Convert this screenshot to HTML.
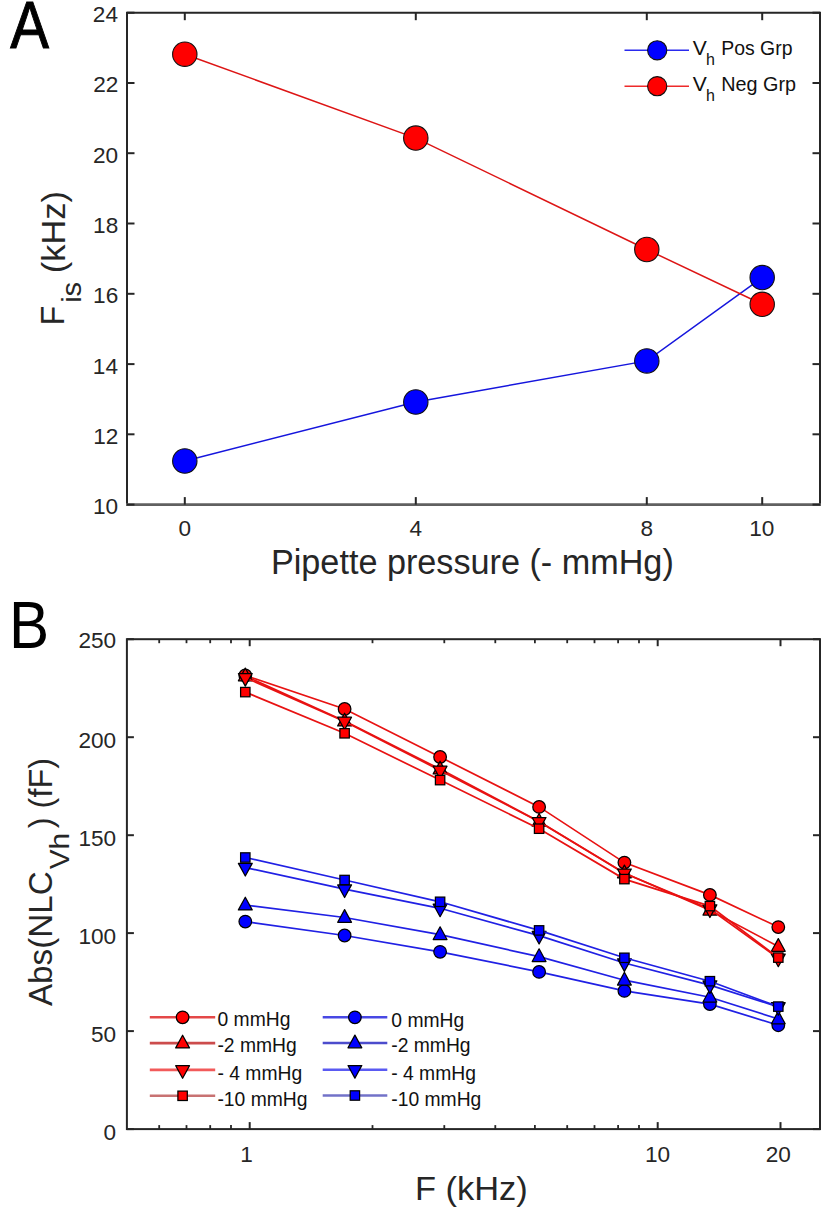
<!DOCTYPE html>
<html><head><meta charset="utf-8"><style>
html,body{margin:0;padding:0;background:#fff;}
body{width:826px;height:1210px;overflow:hidden;}
svg{display:block;}
#w{width:826px;height:1210px;}
text{font-family:"Liberation Sans",sans-serif;}
</style></head><body><div id="w">
<svg width="826" height="1210" viewBox="0 0 826 1210">
<rect width="826" height="1210" fill="#fff"/>
<path d="M127.0,504.6 L127.0,12.7 L820.0,12.7 L820.0,504.6" fill="none" stroke="#262626" stroke-width="2"/>
<line x1="126.0" y1="504.6" x2="821.0" y2="504.6" stroke="#606060" stroke-width="2.6"/>
<line x1="184.8" y1="504.6" x2="184.8" y2="497.1" stroke="#262626" stroke-width="2"/>
<line x1="184.8" y1="12.7" x2="184.8" y2="20.2" stroke="#262626" stroke-width="2"/>
<text x="178.42" y="536.30" font-size="22.6" textLength="12.57" lengthAdjust="spacingAndGlyphs" fill="#262626" >0</text>
<line x1="415.8" y1="504.6" x2="415.8" y2="497.1" stroke="#262626" stroke-width="2"/>
<line x1="415.8" y1="12.7" x2="415.8" y2="20.2" stroke="#262626" stroke-width="2"/>
<text x="409.59" y="536.30" font-size="22.6" textLength="12.57" lengthAdjust="spacingAndGlyphs" fill="#262626" >4</text>
<line x1="646.8" y1="504.6" x2="646.8" y2="497.1" stroke="#262626" stroke-width="2"/>
<line x1="646.8" y1="12.7" x2="646.8" y2="20.2" stroke="#262626" stroke-width="2"/>
<text x="640.42" y="536.30" font-size="22.6" textLength="12.57" lengthAdjust="spacingAndGlyphs" fill="#262626" >8</text>
<line x1="762.2" y1="504.6" x2="762.2" y2="497.1" stroke="#262626" stroke-width="2"/>
<line x1="762.2" y1="12.7" x2="762.2" y2="20.2" stroke="#262626" stroke-width="2"/>
<text x="749.26" y="536.30" font-size="22.6" textLength="25.14" lengthAdjust="spacingAndGlyphs" fill="#262626" >10</text>
<line x1="127.0" y1="504.6" x2="134.5" y2="504.6" stroke="#262626" stroke-width="2"/>
<line x1="820.0" y1="504.6" x2="812.5" y2="504.6" stroke="#262626" stroke-width="2"/>
<text x="92.96" y="514.10" font-size="22.6" textLength="25.14" lengthAdjust="spacingAndGlyphs" fill="#262626" >10</text>
<line x1="127.0" y1="434.3" x2="134.5" y2="434.3" stroke="#262626" stroke-width="2"/>
<line x1="820.0" y1="434.3" x2="812.5" y2="434.3" stroke="#262626" stroke-width="2"/>
<text x="93.29" y="443.83" font-size="22.6" textLength="25.14" lengthAdjust="spacingAndGlyphs" fill="#262626" >12</text>
<line x1="127.0" y1="364.1" x2="134.5" y2="364.1" stroke="#262626" stroke-width="2"/>
<line x1="820.0" y1="364.1" x2="812.5" y2="364.1" stroke="#262626" stroke-width="2"/>
<text x="92.84" y="373.56" font-size="22.6" textLength="25.14" lengthAdjust="spacingAndGlyphs" fill="#262626" >14</text>
<line x1="127.0" y1="293.8" x2="134.5" y2="293.8" stroke="#262626" stroke-width="2"/>
<line x1="820.0" y1="293.8" x2="812.5" y2="293.8" stroke="#262626" stroke-width="2"/>
<text x="93.07" y="303.29" font-size="22.6" textLength="25.14" lengthAdjust="spacingAndGlyphs" fill="#262626" >16</text>
<line x1="127.0" y1="223.5" x2="134.5" y2="223.5" stroke="#262626" stroke-width="2"/>
<line x1="820.0" y1="223.5" x2="812.5" y2="223.5" stroke="#262626" stroke-width="2"/>
<text x="93.07" y="233.01" font-size="22.6" textLength="25.14" lengthAdjust="spacingAndGlyphs" fill="#262626" >18</text>
<line x1="127.0" y1="153.2" x2="134.5" y2="153.2" stroke="#262626" stroke-width="2"/>
<line x1="820.0" y1="153.2" x2="812.5" y2="153.2" stroke="#262626" stroke-width="2"/>
<text x="92.96" y="162.74" font-size="22.6" textLength="25.14" lengthAdjust="spacingAndGlyphs" fill="#262626" >20</text>
<line x1="127.0" y1="83.0" x2="134.5" y2="83.0" stroke="#262626" stroke-width="2"/>
<line x1="820.0" y1="83.0" x2="812.5" y2="83.0" stroke="#262626" stroke-width="2"/>
<text x="93.29" y="92.47" font-size="22.6" textLength="25.14" lengthAdjust="spacingAndGlyphs" fill="#262626" >22</text>
<line x1="127.0" y1="12.7" x2="134.5" y2="12.7" stroke="#262626" stroke-width="2"/>
<line x1="820.0" y1="12.7" x2="812.5" y2="12.7" stroke="#262626" stroke-width="2"/>
<text x="92.84" y="22.20" font-size="22.6" textLength="25.14" lengthAdjust="spacingAndGlyphs" fill="#262626" >24</text>
<polyline points="184.8,461.0 415.8,402.0 646.8,360.9 762.2,277.6" fill="none" stroke="#1515dd" stroke-width="1.5"/>
<polyline points="184.8,54.2 415.8,138.1 646.8,249.5 762.2,304.3" fill="none" stroke="#dd1515" stroke-width="1.5"/>
<circle cx="184.8" cy="461.0" r="12.2" fill="#0000ff" stroke="#111" stroke-width="1.1"/>
<circle cx="415.8" cy="402.0" r="12.2" fill="#0000ff" stroke="#111" stroke-width="1.1"/>
<circle cx="646.8" cy="360.9" r="12.2" fill="#0000ff" stroke="#111" stroke-width="1.1"/>
<circle cx="762.2" cy="277.6" r="12.2" fill="#0000ff" stroke="#111" stroke-width="1.1"/>
<circle cx="184.8" cy="54.2" r="12.2" fill="#ff0000" stroke="#111" stroke-width="1.1"/>
<circle cx="415.8" cy="138.1" r="12.2" fill="#ff0000" stroke="#111" stroke-width="1.1"/>
<circle cx="646.8" cy="249.5" r="12.2" fill="#ff0000" stroke="#111" stroke-width="1.1"/>
<circle cx="762.2" cy="304.3" r="12.2" fill="#ff0000" stroke="#111" stroke-width="1.1"/>
<line x1="624.5" y1="50.3" x2="689" y2="50.3" stroke="#2a2aee" stroke-width="1.5"/>
<circle cx="657.2" cy="50.3" r="9.6" fill="#0000ff" stroke="#111" stroke-width="1.1"/>
<text x="692.89" y="54.80" font-size="19.4" textLength="14.05" lengthAdjust="spacingAndGlyphs" fill="#111" >V</text>
<text x="705.9" y="64.90" font-size="16" fill="#111">h</text>
<text x="721.25" y="54.80" font-size="19.4" textLength="71.19" lengthAdjust="spacingAndGlyphs" fill="#111" >Pos Grp</text>
<line x1="624.5" y1="86.2" x2="689" y2="86.2" stroke="#ee2a2a" stroke-width="1.5"/>
<circle cx="657.2" cy="86.2" r="9.6" fill="#ff0000" stroke="#111" stroke-width="1.1"/>
<text x="692.89" y="90.70" font-size="19.4" textLength="14.05" lengthAdjust="spacingAndGlyphs" fill="#111" >V</text>
<text x="705.9" y="100.80" font-size="16" fill="#111">h</text>
<text x="721.22" y="90.70" font-size="19.4" textLength="74.76" lengthAdjust="spacingAndGlyphs" fill="#111" >Neg Grp</text>
<text x="270.96" y="574.10" font-size="34.2" textLength="402.83" lengthAdjust="spacingAndGlyphs" fill="#262626" >Pipette pressure (- mmHg)</text>
<g transform="rotate(-90)"><text x="-325.38" y="64.40" font-size="33.5" textLength="19.70" lengthAdjust="spacingAndGlyphs" fill="#262626" >F</text><text x="-302.89" y="80.80" font-size="28" textLength="20.97" lengthAdjust="spacingAndGlyphs" fill="#262626" >is</text><text x="-273.27" y="64.50" font-size="33.8" textLength="82.25" lengthAdjust="spacingAndGlyphs" fill="#262626" >(kHz)</text></g>
<g transform="translate(10.2,47.9) scale(0.875,1)"><text x="0" y="0" font-size="66.4" fill="#000" stroke="#000" stroke-width="1.0">A</text></g>
<rect x="126.9" y="639.2" width="693.1" height="489.89999999999986" fill="none" stroke="#262626" stroke-width="2"/>
<line x1="249.7" y1="1129.1" x2="249.7" y2="1122.1" stroke="#262626" stroke-width="2"/>
<line x1="249.7" y1="639.2" x2="249.7" y2="646.2" stroke="#262626" stroke-width="2"/>
<line x1="657.7" y1="1129.1" x2="657.7" y2="1122.1" stroke="#262626" stroke-width="2"/>
<line x1="657.7" y1="639.2" x2="657.7" y2="646.2" stroke="#262626" stroke-width="2"/>
<line x1="780.5" y1="1129.1" x2="780.5" y2="1122.1" stroke="#262626" stroke-width="2"/>
<line x1="780.5" y1="639.2" x2="780.5" y2="646.2" stroke="#262626" stroke-width="2"/>
<text x="240.14" y="1161.70" font-size="22.6" textLength="12.57" lengthAdjust="spacingAndGlyphs" fill="#262626" >1</text>
<text x="645.01" y="1161.70" font-size="22.6" textLength="25.14" lengthAdjust="spacingAndGlyphs" fill="#262626" >10</text>
<text x="765.79" y="1161.70" font-size="22.6" textLength="25.14" lengthAdjust="spacingAndGlyphs" fill="#262626" >20</text>
<line x1="159.2" y1="1129.1" x2="159.2" y2="1125.1" stroke="#262626" stroke-width="1.8"/>
<line x1="159.2" y1="639.2" x2="159.2" y2="643.2" stroke="#262626" stroke-width="1.8"/>
<line x1="186.5" y1="1129.1" x2="186.5" y2="1125.1" stroke="#262626" stroke-width="1.8"/>
<line x1="186.5" y1="639.2" x2="186.5" y2="643.2" stroke="#262626" stroke-width="1.8"/>
<line x1="210.2" y1="1129.1" x2="210.2" y2="1125.1" stroke="#262626" stroke-width="1.8"/>
<line x1="210.2" y1="639.2" x2="210.2" y2="643.2" stroke="#262626" stroke-width="1.8"/>
<line x1="231.0" y1="1129.1" x2="231.0" y2="1125.1" stroke="#262626" stroke-width="1.8"/>
<line x1="231.0" y1="639.2" x2="231.0" y2="643.2" stroke="#262626" stroke-width="1.8"/>
<line x1="372.5" y1="1129.1" x2="372.5" y2="1125.1" stroke="#262626" stroke-width="1.8"/>
<line x1="372.5" y1="639.2" x2="372.5" y2="643.2" stroke="#262626" stroke-width="1.8"/>
<line x1="444.3" y1="1129.1" x2="444.3" y2="1125.1" stroke="#262626" stroke-width="1.8"/>
<line x1="444.3" y1="639.2" x2="444.3" y2="643.2" stroke="#262626" stroke-width="1.8"/>
<line x1="495.3" y1="1129.1" x2="495.3" y2="1125.1" stroke="#262626" stroke-width="1.8"/>
<line x1="495.3" y1="639.2" x2="495.3" y2="643.2" stroke="#262626" stroke-width="1.8"/>
<line x1="534.9" y1="1129.1" x2="534.9" y2="1125.1" stroke="#262626" stroke-width="1.8"/>
<line x1="534.9" y1="639.2" x2="534.9" y2="643.2" stroke="#262626" stroke-width="1.8"/>
<line x1="567.2" y1="1129.1" x2="567.2" y2="1125.1" stroke="#262626" stroke-width="1.8"/>
<line x1="567.2" y1="639.2" x2="567.2" y2="643.2" stroke="#262626" stroke-width="1.8"/>
<line x1="594.5" y1="1129.1" x2="594.5" y2="1125.1" stroke="#262626" stroke-width="1.8"/>
<line x1="594.5" y1="639.2" x2="594.5" y2="643.2" stroke="#262626" stroke-width="1.8"/>
<line x1="618.1" y1="1129.1" x2="618.1" y2="1125.1" stroke="#262626" stroke-width="1.8"/>
<line x1="618.1" y1="639.2" x2="618.1" y2="643.2" stroke="#262626" stroke-width="1.8"/>
<line x1="639.0" y1="1129.1" x2="639.0" y2="1125.1" stroke="#262626" stroke-width="1.8"/>
<line x1="639.0" y1="639.2" x2="639.0" y2="643.2" stroke="#262626" stroke-width="1.8"/>
<line x1="126.9" y1="1129.1" x2="133.9" y2="1129.1" stroke="#262626" stroke-width="2"/>
<line x1="820.0" y1="1129.1" x2="813.0" y2="1129.1" stroke="#262626" stroke-width="2"/>
<text x="103.55" y="1139.81" font-size="22.6" textLength="12.57" lengthAdjust="spacingAndGlyphs" fill="#262626" >0</text>
<line x1="126.9" y1="1031.1" x2="133.9" y2="1031.1" stroke="#262626" stroke-width="2"/>
<line x1="820.0" y1="1031.1" x2="813.0" y2="1031.1" stroke="#262626" stroke-width="2"/>
<text x="91.00" y="1041.83" font-size="22.6" textLength="25.14" lengthAdjust="spacingAndGlyphs" fill="#262626" >50</text>
<line x1="126.9" y1="933.1" x2="133.9" y2="933.1" stroke="#262626" stroke-width="2"/>
<line x1="820.0" y1="933.1" x2="813.0" y2="933.1" stroke="#262626" stroke-width="2"/>
<text x="78.46" y="943.85" font-size="22.6" textLength="37.71" lengthAdjust="spacingAndGlyphs" fill="#262626" >100</text>
<line x1="126.9" y1="835.2" x2="133.9" y2="835.2" stroke="#262626" stroke-width="2"/>
<line x1="820.0" y1="835.2" x2="813.0" y2="835.2" stroke="#262626" stroke-width="2"/>
<text x="78.46" y="845.87" font-size="22.6" textLength="37.71" lengthAdjust="spacingAndGlyphs" fill="#262626" >150</text>
<line x1="126.9" y1="737.2" x2="133.9" y2="737.2" stroke="#262626" stroke-width="2"/>
<line x1="820.0" y1="737.2" x2="813.0" y2="737.2" stroke="#262626" stroke-width="2"/>
<text x="78.46" y="747.89" font-size="22.6" textLength="37.71" lengthAdjust="spacingAndGlyphs" fill="#262626" >200</text>
<line x1="126.9" y1="639.2" x2="133.9" y2="639.2" stroke="#262626" stroke-width="2"/>
<line x1="820.0" y1="639.2" x2="813.0" y2="639.2" stroke="#262626" stroke-width="2"/>
<text x="78.46" y="647.81" font-size="22.6" textLength="37.71" lengthAdjust="spacingAndGlyphs" fill="#262626" >250</text>
<polyline points="245.3,675.5 344.6,709.0 440.1,757.0 539.1,806.9 624.4,862.6 709.9,894.9 778.3,927.1" fill="none" stroke="#e81212" stroke-width="1.7"/>
<circle cx="245.3" cy="675.5" r="6.3" fill="#ff0000" stroke="#000" stroke-width="1.25"/>
<circle cx="344.6" cy="709.0" r="6.3" fill="#ff0000" stroke="#000" stroke-width="1.25"/>
<circle cx="440.1" cy="757.0" r="6.3" fill="#ff0000" stroke="#000" stroke-width="1.25"/>
<circle cx="539.1" cy="806.9" r="6.3" fill="#ff0000" stroke="#000" stroke-width="1.25"/>
<circle cx="624.4" cy="862.6" r="6.3" fill="#ff0000" stroke="#000" stroke-width="1.25"/>
<circle cx="709.9" cy="894.9" r="6.3" fill="#ff0000" stroke="#000" stroke-width="1.25"/>
<circle cx="778.3" cy="927.1" r="6.3" fill="#ff0000" stroke="#000" stroke-width="1.25"/>
<polyline points="245.3,676.0 344.6,721.1 440.1,769.1 539.1,821.4 624.4,873.0 709.9,910.2 778.3,946.5" fill="none" stroke="#e81212" stroke-width="1.7"/>
<polygon points="245.3,668.1 252.2,680.8 238.4,680.8" fill="#ff0000" stroke="#000" stroke-width="1.25" stroke-linejoin="round"/>
<polygon points="344.6,713.2 351.5,725.9 337.7,725.9" fill="#ff0000" stroke="#000" stroke-width="1.25" stroke-linejoin="round"/>
<polygon points="440.1,761.2 447.0,773.9 433.2,773.9" fill="#ff0000" stroke="#000" stroke-width="1.25" stroke-linejoin="round"/>
<polygon points="539.1,813.5 546.0,826.2 532.2,826.2" fill="#ff0000" stroke="#000" stroke-width="1.25" stroke-linejoin="round"/>
<polygon points="624.4,865.1 631.3,877.8 617.5,877.8" fill="#ff0000" stroke="#000" stroke-width="1.25" stroke-linejoin="round"/>
<polygon points="709.9,902.3 716.8,915.0 703.0,915.0" fill="#ff0000" stroke="#000" stroke-width="1.25" stroke-linejoin="round"/>
<polygon points="778.3,938.6 785.2,951.3 771.4,951.3" fill="#ff0000" stroke="#000" stroke-width="1.25" stroke-linejoin="round"/>
<polyline points="245.3,677.7 344.6,721.4 440.1,770.4 539.1,821.7 624.4,873.2 709.9,909.1 778.3,958.3" fill="none" stroke="#e81212" stroke-width="1.7"/>
<polygon points="245.3,686.1 252.2,673.5 238.4,673.5" fill="#ff0000" stroke="#000" stroke-width="1.25" stroke-linejoin="round"/>
<polygon points="344.6,729.8 351.5,717.2 337.7,717.2" fill="#ff0000" stroke="#000" stroke-width="1.25" stroke-linejoin="round"/>
<polygon points="440.1,778.8 447.0,766.2 433.2,766.2" fill="#ff0000" stroke="#000" stroke-width="1.25" stroke-linejoin="round"/>
<polygon points="539.1,830.1 546.0,817.5 532.2,817.5" fill="#ff0000" stroke="#000" stroke-width="1.25" stroke-linejoin="round"/>
<polygon points="624.4,881.6 631.3,869.0 617.5,869.0" fill="#ff0000" stroke="#000" stroke-width="1.25" stroke-linejoin="round"/>
<polygon points="709.9,917.5 716.8,904.9 703.0,904.9" fill="#ff0000" stroke="#000" stroke-width="1.25" stroke-linejoin="round"/>
<polygon points="778.3,966.7 785.2,954.1 771.4,954.1" fill="#ff0000" stroke="#000" stroke-width="1.25" stroke-linejoin="round"/>
<polyline points="245.3,692.1 344.6,733.3 440.1,780.1 539.1,828.7 624.4,879.1 709.9,906.1 778.3,957.6" fill="none" stroke="#e81212" stroke-width="1.7"/>
<rect x="240.6" y="687.4" width="9.4" height="9.4" fill="#ff0000" stroke="#000" stroke-width="1.25"/>
<rect x="339.9" y="728.6" width="9.4" height="9.4" fill="#ff0000" stroke="#000" stroke-width="1.25"/>
<rect x="435.4" y="775.4" width="9.4" height="9.4" fill="#ff0000" stroke="#000" stroke-width="1.25"/>
<rect x="534.4" y="824.0" width="9.4" height="9.4" fill="#ff0000" stroke="#000" stroke-width="1.25"/>
<rect x="619.7" y="874.4" width="9.4" height="9.4" fill="#ff0000" stroke="#000" stroke-width="1.25"/>
<rect x="705.2" y="901.4" width="9.4" height="9.4" fill="#ff0000" stroke="#000" stroke-width="1.25"/>
<rect x="773.6" y="952.9" width="9.4" height="9.4" fill="#ff0000" stroke="#000" stroke-width="1.25"/>
<polyline points="245.3,921.6 344.6,935.5 440.1,951.8 539.1,971.9 624.4,990.9 709.9,1004.1 778.3,1025.2" fill="none" stroke="#2020e4" stroke-width="1.7"/>
<circle cx="245.3" cy="921.6" r="6.3" fill="#0000ff" stroke="#000" stroke-width="1.25"/>
<circle cx="344.6" cy="935.5" r="6.3" fill="#0000ff" stroke="#000" stroke-width="1.25"/>
<circle cx="440.1" cy="951.8" r="6.3" fill="#0000ff" stroke="#000" stroke-width="1.25"/>
<circle cx="539.1" cy="971.9" r="6.3" fill="#0000ff" stroke="#000" stroke-width="1.25"/>
<circle cx="624.4" cy="990.9" r="6.3" fill="#0000ff" stroke="#000" stroke-width="1.25"/>
<circle cx="709.9" cy="1004.1" r="6.3" fill="#0000ff" stroke="#000" stroke-width="1.25"/>
<circle cx="778.3" cy="1025.2" r="6.3" fill="#0000ff" stroke="#000" stroke-width="1.25"/>
<polyline points="245.3,905.1 344.6,917.5 440.1,934.7 539.1,956.7 624.4,980.2 709.9,997.2 778.3,1019.0" fill="none" stroke="#2020e4" stroke-width="1.7"/>
<polygon points="245.3,897.2 252.2,909.9 238.4,909.9" fill="#0000ff" stroke="#000" stroke-width="1.25" stroke-linejoin="round"/>
<polygon points="344.6,909.6 351.5,922.3 337.7,922.3" fill="#0000ff" stroke="#000" stroke-width="1.25" stroke-linejoin="round"/>
<polygon points="440.1,926.8 447.0,939.5 433.2,939.5" fill="#0000ff" stroke="#000" stroke-width="1.25" stroke-linejoin="round"/>
<polygon points="539.1,948.8 546.0,961.5 532.2,961.5" fill="#0000ff" stroke="#000" stroke-width="1.25" stroke-linejoin="round"/>
<polygon points="624.4,972.3 631.3,985.0 617.5,985.0" fill="#0000ff" stroke="#000" stroke-width="1.25" stroke-linejoin="round"/>
<polygon points="709.9,989.3 716.8,1002.0 703.0,1002.0" fill="#0000ff" stroke="#000" stroke-width="1.25" stroke-linejoin="round"/>
<polygon points="778.3,1011.1 785.2,1023.8 771.4,1023.8" fill="#0000ff" stroke="#000" stroke-width="1.25" stroke-linejoin="round"/>
<polyline points="245.3,867.6 344.6,889.1 440.1,908.3 539.1,935.6 624.4,963.0 709.9,985.1 778.3,1006.9" fill="none" stroke="#2020e4" stroke-width="1.7"/>
<polygon points="245.3,876.0 252.2,863.4 238.4,863.4" fill="#0000ff" stroke="#000" stroke-width="1.25" stroke-linejoin="round"/>
<polygon points="344.6,897.5 351.5,884.9 337.7,884.9" fill="#0000ff" stroke="#000" stroke-width="1.25" stroke-linejoin="round"/>
<polygon points="440.1,916.7 447.0,904.1 433.2,904.1" fill="#0000ff" stroke="#000" stroke-width="1.25" stroke-linejoin="round"/>
<polygon points="539.1,944.0 546.0,931.4 532.2,931.4" fill="#0000ff" stroke="#000" stroke-width="1.25" stroke-linejoin="round"/>
<polygon points="624.4,971.4 631.3,958.8 617.5,958.8" fill="#0000ff" stroke="#000" stroke-width="1.25" stroke-linejoin="round"/>
<polygon points="709.9,993.5 716.8,980.9 703.0,980.9" fill="#0000ff" stroke="#000" stroke-width="1.25" stroke-linejoin="round"/>
<polygon points="778.3,1015.3 785.2,1002.7 771.4,1002.7" fill="#0000ff" stroke="#000" stroke-width="1.25" stroke-linejoin="round"/>
<polyline points="245.3,857.5 344.6,880.0 440.1,901.8 539.1,930.4 624.4,957.8 709.9,981.2 778.3,1006.6" fill="none" stroke="#2020e4" stroke-width="1.7"/>
<rect x="240.6" y="852.8" width="9.4" height="9.4" fill="#0000ff" stroke="#000" stroke-width="1.25"/>
<rect x="339.9" y="875.3" width="9.4" height="9.4" fill="#0000ff" stroke="#000" stroke-width="1.25"/>
<rect x="435.4" y="897.1" width="9.4" height="9.4" fill="#0000ff" stroke="#000" stroke-width="1.25"/>
<rect x="534.4" y="925.7" width="9.4" height="9.4" fill="#0000ff" stroke="#000" stroke-width="1.25"/>
<rect x="619.7" y="953.1" width="9.4" height="9.4" fill="#0000ff" stroke="#000" stroke-width="1.25"/>
<rect x="705.2" y="976.5" width="9.4" height="9.4" fill="#0000ff" stroke="#000" stroke-width="1.25"/>
<rect x="773.6" y="1001.9" width="9.4" height="9.4" fill="#0000ff" stroke="#000" stroke-width="1.25"/>
<line x1="149.8" y1="1017.3" x2="215.2" y2="1017.3" stroke="#e44848" stroke-width="2.6"/>
<circle cx="182.6" cy="1017.3" r="6.3" fill="#ff0000" stroke="#000" stroke-width="1.25"/>
<text x="217.53" y="1026.20" font-size="19.3" textLength="72.92" lengthAdjust="spacingAndGlyphs" fill="#111" >0 mmHg</text>
<line x1="322.7" y1="1017.3" x2="387.3" y2="1017.3" stroke="#4848e4" stroke-width="2.6"/>
<circle cx="354.9" cy="1017.3" r="6.3" fill="#0000ff" stroke="#000" stroke-width="1.25"/>
<text x="391.33" y="1026.50" font-size="19.3" textLength="72.92" lengthAdjust="spacingAndGlyphs" fill="#111" >0 mmHg</text>
<line x1="149.8" y1="1043.1" x2="215.2" y2="1043.1" stroke="#cc4c4c" stroke-width="2.6"/>
<polygon points="182.6,1035.2 189.5,1047.9 175.7,1047.9" fill="#ff0000" stroke="#000" stroke-width="1.25" stroke-linejoin="round"/>
<text x="217.43" y="1051.90" font-size="19.3" textLength="79.35" lengthAdjust="spacingAndGlyphs" fill="#111" >-2 mmHg</text>
<line x1="322.7" y1="1043.0" x2="387.3" y2="1043.0" stroke="#4c4ccc" stroke-width="2.6"/>
<polygon points="354.9,1035.1 361.8,1047.8 348.0,1047.8" fill="#0000ff" stroke="#000" stroke-width="1.25" stroke-linejoin="round"/>
<text x="391.23" y="1052.20" font-size="19.3" textLength="79.35" lengthAdjust="spacingAndGlyphs" fill="#111" >-2 mmHg</text>
<line x1="149.8" y1="1069.9" x2="215.2" y2="1069.9" stroke="#f25a5a" stroke-width="2.6"/>
<polygon points="182.6,1078.3 189.5,1065.7 175.7,1065.7" fill="#ff0000" stroke="#000" stroke-width="1.25" stroke-linejoin="round"/>
<text x="217.43" y="1079.80" font-size="19.3" textLength="84.71" lengthAdjust="spacingAndGlyphs" fill="#111" >- 4 mmHg</text>
<line x1="322.7" y1="1069.7" x2="387.3" y2="1069.7" stroke="#5a5af2" stroke-width="2.6"/>
<polygon points="354.9,1078.1 361.8,1065.5 348.0,1065.5" fill="#0000ff" stroke="#000" stroke-width="1.25" stroke-linejoin="round"/>
<text x="391.23" y="1080.10" font-size="19.3" textLength="84.71" lengthAdjust="spacingAndGlyphs" fill="#111" >- 4 mmHg</text>
<line x1="149.8" y1="1095.8" x2="215.2" y2="1095.8" stroke="#c87272" stroke-width="2.6"/>
<rect x="177.9" y="1091.1" width="9.4" height="9.4" fill="#ff0000" stroke="#000" stroke-width="1.25"/>
<text x="217.43" y="1105.80" font-size="19.3" textLength="90.09" lengthAdjust="spacingAndGlyphs" fill="#111" >-10 mmHg</text>
<line x1="322.7" y1="1095.5" x2="387.3" y2="1095.5" stroke="#7272c8" stroke-width="2.6"/>
<rect x="350.2" y="1090.8" width="9.4" height="9.4" fill="#0000ff" stroke="#000" stroke-width="1.25"/>
<text x="391.23" y="1106.10" font-size="19.3" textLength="90.09" lengthAdjust="spacingAndGlyphs" fill="#111" >-10 mmHg</text>
<text x="415.00" y="1199.50" font-size="34" textLength="112.73" lengthAdjust="spacingAndGlyphs" fill="#262626" >F (kHz)</text>
<g transform="rotate(-90)"><text x="-1006.10" y="52.00" font-size="34" textLength="134.72" lengthAdjust="spacingAndGlyphs" fill="#262626" >Abs(NLC</text><text x="-869.35" y="68.60" font-size="28.5" textLength="36.48" lengthAdjust="spacingAndGlyphs" fill="#262626" >Vh</text><text x="-828.16" y="52.00" font-size="34" textLength="70.12" lengthAdjust="spacingAndGlyphs" fill="#262626" >) (fF)</text></g>
<g transform="translate(13.9,648) scale(0.9,1)"><text x="-5.34" y="0" font-size="66.8" fill="#000">B</text></g>
</svg></div></body></html>
